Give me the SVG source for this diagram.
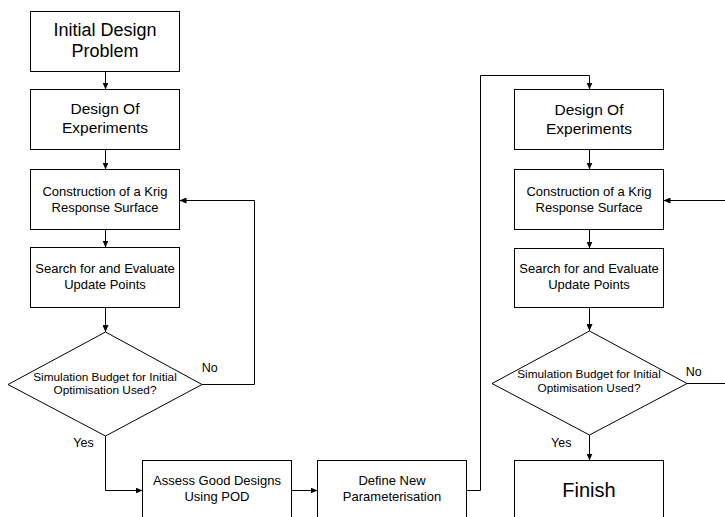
<svg xmlns="http://www.w3.org/2000/svg" width="725" height="517" viewBox="0 0 725 517">
<defs>
<marker id="arr" markerWidth="7" markerHeight="6" refX="7" refY="3" orient="auto" markerUnits="userSpaceOnUse">
<path d="M0,0 L7,3 L0,6 z" fill="#000"/>
</marker>
<style>
.n{fill:#fff;stroke:#000;stroke-width:1}
.c{fill:none;stroke:#000;stroke-width:1;marker-end:url(#arr)}
.l{fill:none;stroke:#000;stroke-width:1}
text{font-family:"Liberation Sans",Arial,sans-serif;fill:#000}
.m{text-anchor:middle}
.t18{font-size:18px}.t15{font-size:15.5px}.t13{font-size:13px}.t12{font-size:11.8px}.t20{font-size:20px}.lb{font-size:12.5px}
</style>
</defs>
<rect width="725" height="517" fill="#fff"/>
<g id="connectors">
<path class="c" d="M105.5,71.5 V89.5"/>
<path class="c" d="M105.5,149.5 V169.5"/>
<path class="c" d="M105.5,229.5 V247.5"/>
<path class="c" d="M105.5,307.5 V332"/>
<path class="c" d="M202,384.5 H254.5 V200.5 H179.5"/>
<path class="c" d="M105.5,436 V490.5 H142.5"/>
<path class="c" d="M291.5,490.5 H317.5"/>
<path class="c" d="M466.5,490.5 H480.5 V75.5 H589.5 V89.5"/>
<path class="c" d="M589.5,149.5 V169.5"/>
<path class="c" d="M589.5,229.5 V248.5"/>
<path class="c" d="M589.5,307.5 V331"/>
<path class="c" d="M589.5,435 V460.5"/>
<path class="c" d="M726,200.5 H663.5"/>
<path class="l" d="M687,383.5 H726"/>
<text x="201.7" y="372.3" class="lb">No</text>
<text x="73.3" y="447.3" class="lb">Yes</text>
<text x="685.7" y="375.7" class="lb">No</text>
<text x="551" y="446.7" class="lb">Yes</text>
</g>
<g id="n1"><rect class="n" x="30.5" y="11.5" width="149" height="60"/>
<text class="m t18" x="105" y="35.7">Initial Design</text><text class="m t18" x="105" y="57">Problem</text></g>
<g id="n2"><rect class="n" x="30.5" y="89.5" width="149" height="60"/>
<text class="m t15" x="105" y="114.3">Design Of</text><text class="m t15" x="105" y="133.3">Experiments</text></g>
<g id="n3"><rect class="n" x="30.5" y="169.5" width="149" height="60"/>
<text class="m t13" x="105" y="196">Construction of a Krig</text><text class="m t13" x="105" y="211.7">Response Surface</text></g>
<g id="n4"><rect class="n" x="30.5" y="247.5" width="149" height="60"/>
<text class="m t13" x="105" y="273.3">Search for and Evaluate</text><text class="m t13" x="105" y="289.3">Update Points</text></g>
<g id="d1"><polygon class="n" points="105.5,332 202,384.5 105.5,436 8,384.5"/>
<text class="m t12" x="105" y="380.7">Simulation Budget for Initial</text><text class="m t12" x="105" y="394.3">Optimisation Used?</text></g>
<g id="n5"><rect class="n" x="142.5" y="460.5" width="149" height="60"/>
<text class="m t13" x="217" y="485">Assess Good Designs</text><text class="m t13" x="217" y="500.7">Using POD</text></g>
<g id="n6"><rect class="n" x="317.5" y="460.5" width="149" height="60"/>
<text class="m t13" x="392" y="485">Define New</text><text class="m t13" x="392" y="500.7">Parameterisation</text></g>
<g id="n7"><rect class="n" x="514.5" y="89.5" width="149" height="60"/>
<text class="m t15" x="589" y="115">Design Of</text><text class="m t15" x="589" y="134">Experiments</text></g>
<g id="n8"><rect class="n" x="514.5" y="169.5" width="149" height="60"/>
<text class="m t13" x="589" y="195.7">Construction of a Krig</text><text class="m t13" x="589" y="211.7">Response Surface</text></g>
<g id="n9"><rect class="n" x="514.5" y="248.5" width="149" height="59"/>
<text class="m t13" x="589" y="273.3">Search for and Evaluate</text><text class="m t13" x="589" y="289.3">Update Points</text></g>
<g id="d2"><polygon class="n" points="589.5,331 687,383.5 589.5,435 492,383.5"/>
<text class="m t12" x="589" y="378.3">Simulation Budget for Initial</text><text class="m t12" x="589" y="392.3">Optimisation Used?</text></g>
<g id="n10"><rect class="n" x="514.5" y="460.5" width="149" height="60"/>
<text class="m t20" x="589" y="496.7">Finish</text></g>
</svg>
